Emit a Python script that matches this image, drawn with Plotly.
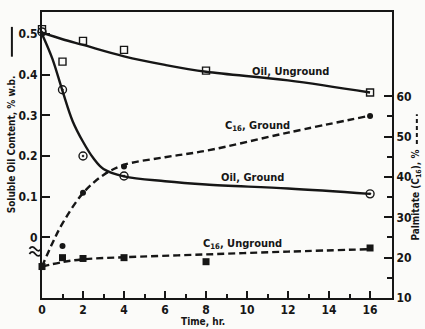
import plotly.graph_objects as go

# Sampling times (hr)
t_oil_ungr = [0, 1, 2, 4, 8, 16]
oil_ungr = [0.512, 0.432, 0.483, 0.461, 0.41, 0.356]

t_oil_gr = [0, 1, 2, 4, 16]
oil_gr = [0.505, 0.363, 0.20, 0.151, 0.107]

t_c16_gr = [0, 1, 2, 4, 16]
c16_gr = [17.8, 22.9, 36.1, 42.6, 55.1]

t_c16_ungr = [0, 1, 2, 4, 8, 16]
c16_ungr = [17.8, 20.0, 19.8, 20.0, 19.0, 22.4]

# Hand-drawn trend curves (anchor values)
fit_t_oil_ungr = [0, 1, 2, 4, 6, 8, 12, 16]
fit_oil_ungr = [0.503, 0.487, 0.473, 0.445, 0.424, 0.407, 0.386, 0.356]

fit_t_oil_gr = [0, 0.5, 1, 1.5, 2, 2.5, 3, 4, 6, 8, 12, 16]
fit_oil_gr = [0.50, 0.44, 0.36, 0.285, 0.235, 0.195, 0.168, 0.15, 0.138, 0.13, 0.12, 0.107]

fit_t_c16_gr = [0, 0.5, 1, 2, 3, 4, 6, 8, 12, 16]
fit_c16_gr = [17.8, 23.5, 28.5, 36.0, 40.5, 43.0, 44.9, 46.5, 51.0, 55.2]

fit_t_c16_ungr = [0, 1, 2, 4, 8, 12, 16]
fit_c16_ungr = [17.8, 18.9, 19.6, 20.1, 20.8, 21.5, 22.1]

oil_ticks = [0, 0.1, 0.2, 0.3, 0.4, 0.5]
oil_ticktext = ["0", "0.1", "0.2", "0.3", "0.4", "0.5"]
c16_ticks = [10, 20, 30, 40, 50, 60]
time_ticks = [0, 2, 4, 6, 8, 10, 12, 14, 16]

INK = "#161616"
BG = "#fbfbf9"
FONT = "DejaVu Sans Condensed, Roboto, sans-serif"

fig = go.Figure()

line_solid = dict(color=INK, width=2.4, shape="spline", smoothing=1.0)
line_dash = dict(color=INK, width=2.4, shape="spline", smoothing=1.0, dash="7px,4px")

fig.add_trace(go.Scatter(x=fit_t_oil_ungr, y=fit_oil_ungr, mode="lines", line=line_solid,
                         yaxis="y", cliponaxis=False, hoverinfo="skip"))
fig.add_trace(go.Scatter(x=fit_t_oil_gr, y=fit_oil_gr, mode="lines", line=line_solid,
                         yaxis="y", cliponaxis=False, hoverinfo="skip"))
fig.add_trace(go.Scatter(x=fit_t_c16_gr, y=fit_c16_gr, mode="lines", line=line_dash,
                         yaxis="y2", cliponaxis=False, hoverinfo="skip"))
fig.add_trace(go.Scatter(x=fit_t_c16_ungr, y=fit_c16_ungr, mode="lines", line=line_dash,
                         yaxis="y2", cliponaxis=False, hoverinfo="skip"))

fig.add_trace(go.Scatter(x=t_oil_ungr, y=oil_ungr, mode="markers", yaxis="y", cliponaxis=False,
                         marker=dict(symbol="square-open", size=7, color=INK, line=dict(width=1.4, color=INK))))
fig.add_trace(go.Scatter(x=t_oil_gr, y=oil_gr, mode="markers", yaxis="y", cliponaxis=False,
                         marker=dict(symbol="circle-open-dot", size=8, color=INK, line=dict(width=1.4, color=INK))))
fig.add_trace(go.Scatter(x=t_c16_gr, y=c16_gr, mode="markers", yaxis="y2", cliponaxis=False,
                         marker=dict(symbol="circle", size=6, color=INK)))
fig.add_trace(go.Scatter(x=t_c16_ungr, y=c16_ungr, mode="markers", yaxis="y2", cliponaxis=False,
                         marker=dict(symbol="square", size=7, color=INK)))

tickfont = dict(family=FONT, size=12, color=INK, weight="bold")

fig.update_layout(
    width=425, height=329,
    margin=dict(l=42, r=33, t=10, b=31),
    paper_bgcolor=BG, plot_bgcolor=BG,
    showlegend=False,
    font=dict(family=FONT, color=INK),
    xaxis=dict(range=[0, 17.07], tickvals=time_ticks, ticks="inside", ticklen=7, tickwidth=2,
               tickcolor=INK, showline=True, linecolor=INK, linewidth=2, mirror=True,
               showgrid=False, zeroline=False, tickfont=tickfont, ticklabelstandoff=0,
               minor=dict(tickvals=[1, 3, 5, 7, 9, 11, 13, 15], ticks="inside", ticklen=4,
                          tickwidth=2, tickcolor=INK, showgrid=False)),
    yaxis=dict(range=[-0.149, 0.554], tickvals=oil_ticks, ticktext=oil_ticktext,
               ticks="inside", ticklen=8, tickwidth=2, tickcolor=INK,
               showline=True, linecolor=INK, linewidth=2, showgrid=False, zeroline=False,
               tickfont=tickfont),
    yaxis2=dict(range=[10, 80.9], tickvals=c16_ticks, overlaying="y", side="right",
                ticks="inside", ticklen=8, tickwidth=2, tickcolor=INK,
                showline=True, linecolor=INK, linewidth=2, showgrid=False, zeroline=False,
                tickfont=tickfont,
                minor=dict(tickvals=[15, 25, 35, 45, 55], ticks="inside", ticklen=5,
                           tickwidth=2, tickcolor=INK, showgrid=False)),
)

labfont = dict(family=FONT, size=11, color=INK, weight="bold")
labels = [
    ("Oil, Unground", 0.709, 0.792),
    ("C<sub>16</sub>, Ground", 0.617, 0.601),
    ("Oil, Ground", 0.60, 0.42),
    ("C<sub>16</sub>, Unground", 0.574, 0.1875),
]
for txt, px, py in labels:
    fig.add_annotation(text=txt, x=px, y=py, xref="paper", yref="paper",
                       showarrow=False, font=labfont, xanchor="center", yanchor="middle")

# axis titles
titlefont = dict(family=FONT, size=10, color=INK, weight="bold")
fig.add_annotation(text="Soluble Oil Content, % w.b.", x=-0.086, y=0.537, xref="paper", yref="paper",
                   textangle=-90, showarrow=False, font=titlefont,
                   xanchor="center", yanchor="middle")
fig.add_annotation(text="Palmitate (C<sub>16</sub>), %", x=1.071, y=0.361, xref="paper", yref="paper",
                   textangle=-90, showarrow=False, font=titlefont,
                   xanchor="center", yanchor="middle")
fig.add_annotation(text="Time, hr.", x=0.46, y=-0.083, xref="paper", yref="paper",
                   showarrow=False, font=titlefont,
                   xanchor="center", yanchor="middle")

# key strokes beside the axis titles
fig.add_shape(type="line", xref="paper", yref="paper", x0=-0.086, x1=-0.086,
              y0=(298 - 55) / 288, y1=(298 - 25) / 288, line=dict(color=INK, width=2))
fig.add_shape(type="line", xref="paper", yref="paper", x0=1.071, x1=1.071,
              y0=(298 - 143) / 288, y1=(298 - 113) / 288, line=dict(color=INK, width=2, dash="4px,3px"))

# axis break mark on the left scale
for yb in (0.172, 0.154):
    fig.add_shape(type="path", xref="paper", yref="paper",
                  path=f"M -0.036,{yb} Q -0.028,{yb + 0.014} -0.019,{yb} T -0.002,{yb}",
                  line=dict(color=INK, width=1.8))

fig.write_html("out.html")
